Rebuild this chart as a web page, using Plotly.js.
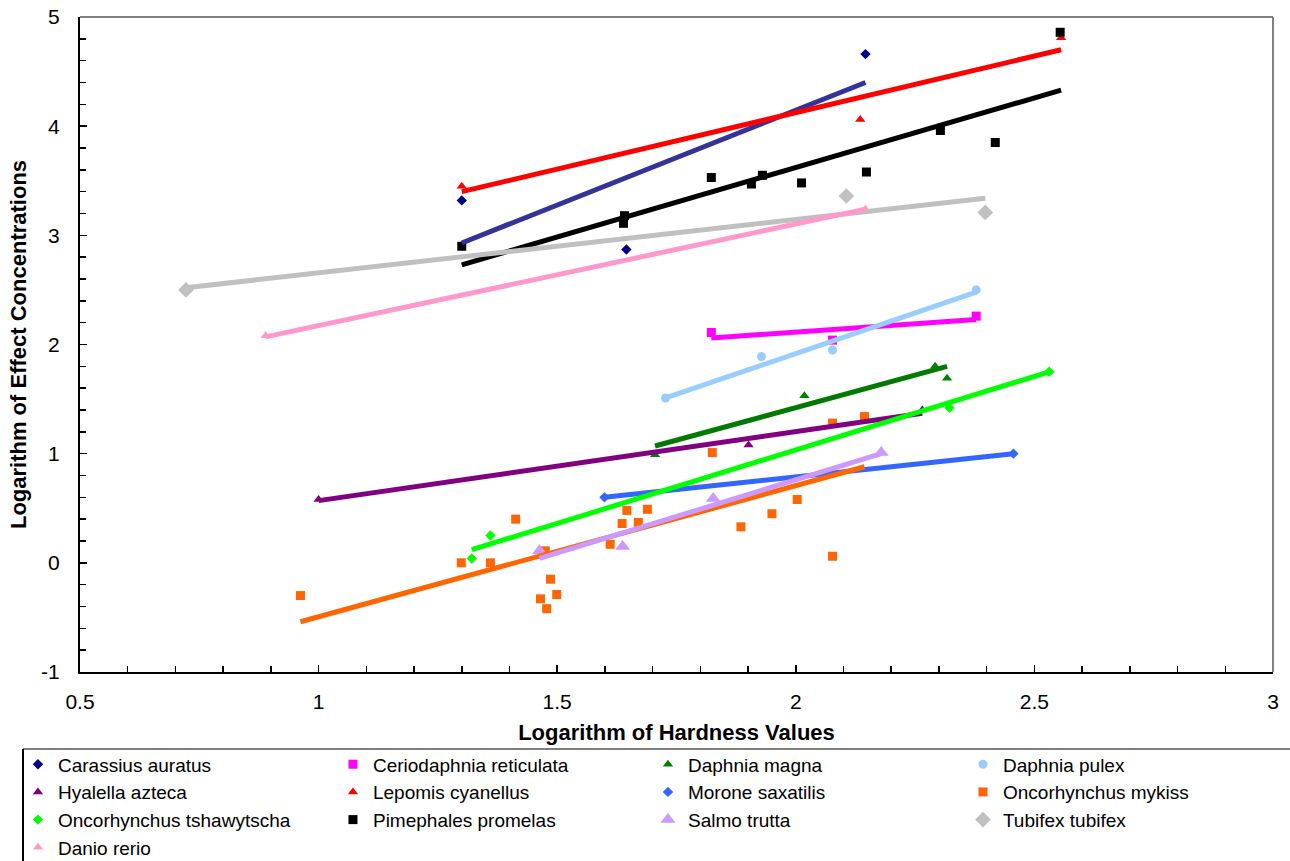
<!DOCTYPE html>
<html><head><meta charset="utf-8">
<script src="https://cdn.plot.ly/plotly-3.0.1.min.js"></script>
<style>html,body{margin:0;padding:0;background:#fff}</style>
</head><body><div id="chart" style="width:1290px;height:861px"></div>
<script>
// ---- data ----
const seriesNames = ["Carassius auratus","Ceriodaphnia reticulata","Daphnia magna","Daphnia pulex",
  "Hyalella azteca","Lepomis cyanellus","Morone saxatilis","Oncorhynchus mykiss",
  "Oncorhynchus tshawytscha","Pimephales promelas","Salmo trutta","Tubifex tubifex","Danio rerio"];

const carassiusX = [1.300, 1.645, 2.146];
const carassiusY = [3.32, 2.87, 4.66];
const ceriodaphniaX = [1.823, 2.077, 2.378];
const ceriodaphniaY = [2.11, 2.04, 2.26];
const magnaX = [1.705, 2.018, 2.292, 2.317];
const magnaY = [0.99, 1.53, 1.80, 1.69];
const pulexX = [1.727, 1.928, 2.077, 2.378];
const pulexY = [1.51, 1.89, 1.95, 2.50];
const hyalellaX = [1.000, 1.901, 2.265];
const hyalellaY = [0.58, 1.08, 1.40];
const lepomisX = [1.300, 2.135, 2.556];
const lepomisY = [3.45, 4.06, 4.81];
const moroneX = [1.599, 2.456];
const moroneY = [0.60, 1.00];
const mykissX = [0.962, 1.299, 1.360, 1.413, 1.475, 1.486, 1.499, 1.465, 1.478, 1.611, 1.636,
  1.646, 1.670, 1.689, 1.825, 1.885, 1.950, 2.003, 2.077, 2.144, 2.077];
const mykissY = [-0.30, 0.00, 0.00, 0.40, 0.11, -0.15, -0.29, -0.33, -0.42, 0.17, 0.36,
  0.48, 0.37, 0.49, 1.01, 0.33, 0.45, 0.58, 1.28, 1.34, 0.06];
const tshawytschaX = [1.321, 1.360, 2.322, 2.531];
const tshawytschaY = [0.04, 0.25, 1.42, 1.75];
const pimephalesX = [1.300, 1.639, 1.641, 1.823, 1.907, 1.930, 2.012, 2.148, 2.303, 2.418, 2.554];
const pimephalesY = [2.90, 3.11, 3.18, 3.53, 3.47, 3.55, 3.48, 3.58, 3.96, 3.85, 4.86];
const salmoX = [1.463, 1.637, 1.827, 2.179];
const salmoY = [0.11, 0.15, 0.59, 1.01];
const tubifexX = [0.722, 2.106, 2.397];
const tubifexY = [2.50, 3.36, 3.21];
const danioX = [0.889, 2.146];
const danioY = [2.08, 3.24];

// trend line end points (start, end) per species
const carassiusTrendX = [1.300, 2.146], carassiusTrendY = [2.93, 4.40];
const ceriodaphniaTrendX = [1.823, 2.378], ceriodaphniaTrendY = [2.06, 2.23];
const magnaTrendX = [1.705, 2.317], magnaTrendY = [1.07, 1.80];
const pulexTrendX = [1.727, 2.378], pulexTrendY = [1.51, 2.48];
const hyalellaTrendX = [1.000, 2.265], hyalellaTrendY = [0.57, 1.37];
const lepomisTrendX = [1.300, 2.556], lepomisTrendY = [3.40, 4.70];
const moroneTrendX = [1.599, 2.456], moroneTrendY = [0.60, 1.00];
const mykissTrendX = [0.962, 2.144], mykissTrendY = [-0.54, 0.88];
const tshawytschaTrendX = [1.321, 2.531], tshawytschaTrendY = [0.12, 1.75];
const pimephalesTrendX = [1.300, 2.556], pimephalesTrendY = [2.73, 4.33];
const salmoTrendX = [1.463, 2.179], salmoTrendY = [0.04, 1.00];
const tubifexTrendX = [0.722, 2.397], tubifexTrendY = [2.52, 3.34];
const danioTrendX = [0.889, 2.146], danioTrendY = [2.07, 3.24];

const xTickVals = [0.5, 1, 1.5, 2, 2.5, 3];
const xTickText = ["0.5", "1", "1.5", "2", "2.5", "3"];
const yTickVals = [-1, 0, 1, 2, 3, 4, 5];
const yTickText = ["-1", "0", "1", "2", "3", "4", "5"];

// ---- styles ----
const pointsX = [carassiusX, ceriodaphniaX, magnaX, pulexX, hyalellaX, lepomisX, moroneX, mykissX,
  tshawytschaX, pimephalesX, salmoX, tubifexX, danioX];
const pointsY = [carassiusY, ceriodaphniaY, magnaY, pulexY, hyalellaY, lepomisY, moroneY, mykissY,
  tshawytschaY, pimephalesY, salmoY, tubifexY, danioY];
const trendX = [carassiusTrendX, ceriodaphniaTrendX, magnaTrendX, pulexTrendX, hyalellaTrendX,
  lepomisTrendX, moroneTrendX, mykissTrendX, tshawytschaTrendX, pimephalesTrendX, salmoTrendX,
  tubifexTrendX, danioTrendX];
const trendY = [carassiusTrendY, ceriodaphniaTrendY, magnaTrendY, pulexTrendY, hyalellaTrendY,
  lepomisTrendY, moroneTrendY, mykissTrendY, tshawytschaTrendY, pimephalesTrendY, salmoTrendY,
  tubifexTrendY, danioTrendY];
const symbols = ["diamond","square","triangle-up","circle","triangle-up","triangle-up","diamond",
  "square","diamond","square","triangle-up","diamond","triangle-up"];
const markerColors = ["#000080","#FF00FF","#008000","#99CCFF","#800080","#FF0000","#3366FF",
  "#FF6600","#00FF00","#000000","#CC99FF","#C0C0C0","#FF99CC"];
const markerSizes = [8,9,9,9,9,9,8,9,8,9,13,12,9];
const lineColors = ["#333399","#FF00FF","#007A00","#99CCFF","#800080","#FF0000","#3366FF",
  "#FF6600","#00FF00","#000000","#CC99FF","#C0C0C0","#FF99CC"];

const traces = [];
seriesNames.forEach((n, i) => {
  traces.push({
    type: "scatter", mode: "markers", name: n, x: pointsX[i], y: pointsY[i],
    marker: {symbol: symbols[i], color: markerColors[i], size: markerSizes[i], line: {width: 0}},
    hoverinfo: "x+y+name"
  });
});
seriesNames.forEach((n, i) => {
  traces.push({
    type: "scatter", mode: "lines", name: n + " trend", x: trendX[i], y: trendY[i],
    line: {color: lineColors[i], width: 5}, showlegend: false, hoverinfo: "skip"
  });
});

const font = "Liberation Sans, Arial, sans-serif";
const layout = {
  width: 1290, height: 861,
  margin: {l: 80, r: 17, t: 17, b: 189, autoexpand: false},
  paper_bgcolor: "#ffffff", plot_bgcolor: "#ffffff",
  font: {family: font, color: "#000000", size: 19},
  showlegend: true,
  xaxis: {
    range: [0.5, 3], tickvals: xTickVals, ticktext: xTickText,
    showgrid: false, zeroline: false, showline: true, linecolor: "#000000", linewidth: 2,
    ticks: "inside", ticklen: 7, tickcolor: "#000000", tickwidth: 1.5,
    minor: {dtick: 0.1, ticks: "inside", ticklen: 6, tickcolor: "#000000", tickwidth: 1.5, showgrid: false},
    tickfont: {size: 21, family: font}, ticklabelstandoff: 10,
    title: {text: "Logarithm of Hardness Values", font: {size: 22, family: font, weight: "bold"}, standoff: 12},
    fixedrange: true
  },
  yaxis: {
    range: [-1, 5], tickvals: yTickVals, ticktext: yTickText,
    showgrid: false, zeroline: false, showline: true, linecolor: "#000000", linewidth: 2,
    ticks: "inside", ticklen: 7, tickcolor: "#000000", tickwidth: 1.5,
    minor: {dtick: 0.2, ticks: "inside", ticklen: 6, tickcolor: "#000000", tickwidth: 1.5, showgrid: false},
    tickfont: {size: 21, family: font}, ticklabelstandoff: 14,
    title: {text: "Logarithm of Effect Concentrations", font: {size: 22, family: font, weight: "bold"}, standoff: 8},
    fixedrange: true
  },
  legend: {
    orientation: "h", x: -0.052, xanchor: "left", y: -0.112, yanchor: "top",
    entrywidth: 270, entrywidthmode: "pixels",
    font: {size: 19, family: font, color: "#000000"},
    bgcolor: "rgba(0,0,0,0)", borderwidth: 0, traceorder: "normal"
  },
  shapes: [
    {type: "line", xref: "paper", yref: "paper", x0: 0, x1: 1, y0: 1, y1: 1, line: {color: "#808080", width: 2}},
    {type: "line", xref: "paper", yref: "paper", x0: 1, x1: 1, y0: 0, y1: 1, line: {color: "#808080", width: 2}},
    {type: "line", xref: "paper", yref: "paper", x0: -0.0478, x1: 1.05, y0: -0.1176, y1: -0.1176, line: {color: "#808080", width: 2}},
    {type: "line", xref: "paper", yref: "paper", x0: -0.0478, x1: -0.0478, y0: -0.1176, y1: -0.4, line: {color: "#000000", width: 2}}
  ]
};

Plotly.newPlot("chart", traces, layout, {displayModeBar: false, staticPlot: true});
</script>
</body></html>
